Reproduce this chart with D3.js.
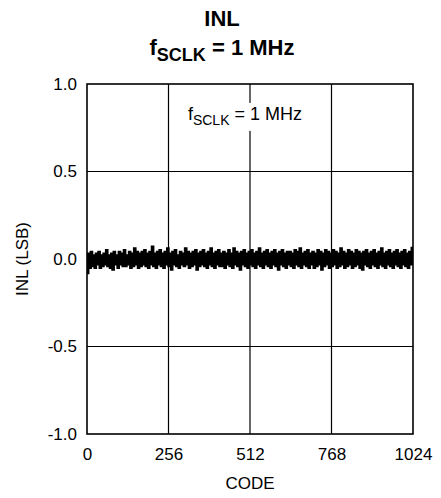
<!DOCTYPE html>
<html>
<head>
<meta charset="utf-8">
<script src="https://cdn.jsdelivr.net/npm/d3@7"></script>
<style>
  body { margin: 0; background: #fff; }
  text { font-family: "Liberation Sans", Arial, sans-serif; fill: #000; }
</style>
</head>
<body>
<div id="chart"></div>
<script>
// tick labels
const xTicks = [0, 256, 512, 768, 1024];
const yTicks = [-1.0, -0.5, 0.0, 0.5, 1.0];

// INL samples, one every 4 codes (LSB)
const codeStep = 4;
const inlValues = [
  -0.08, 0.03, -0.05, 0.04, -0.04, 0.02, -0.05, 0.03, -0.03, 0.04, -0.05, 0.02, -0.04, 0.03, -0.03, 0.05,
  -0.04, 0.02, -0.05, 0.03, -0.06, 0.04, -0.03, 0.02, -0.05, 0.04, -0.03, 0.03, -0.04, 0.05, -0.04, 0.02,
  -0.03, 0.04, -0.05, 0.03, -0.04, 0.06, -0.03, 0.04, -0.05, 0.03, -0.04, 0.04, -0.03, 0.05, -0.04, 0.03,
  -0.05, 0.04, -0.03, 0.07, -0.04, 0.03, -0.05, 0.04, -0.03, 0.05, -0.04, 0.03, -0.05, 0.04, -0.03, 0.06,
  -0.04, 0.03, -0.06, 0.04, -0.03, 0.05, -0.04, 0.02, -0.05, 0.04, -0.03, 0.03, -0.04, 0.06, -0.03, 0.04,
  -0.05, 0.03, -0.04, 0.04, -0.03, 0.05, -0.06, 0.03, -0.04, 0.04, -0.03, 0.05, -0.04, 0.03, -0.05, 0.04,
  -0.03, 0.06, -0.04, 0.03, -0.05, 0.04, -0.03, 0.05, -0.04, 0.03, -0.04, 0.04, -0.05, 0.03, -0.03, 0.05,
  -0.04, 0.03, -0.05, 0.06, -0.03, 0.04, -0.04, 0.03, -0.06, 0.04, -0.03, 0.05, -0.04, 0.03, -0.05, 0.04,
  -0.03, 0.05, -0.04, 0.03, -0.05, 0.04, -0.03, 0.06, -0.04, 0.03, -0.05, 0.04, -0.03, 0.05, -0.04, 0.03,
  -0.05, 0.04, -0.03, 0.05, -0.04, 0.03, -0.06, 0.04, -0.03, 0.05, -0.04, 0.03, -0.05, 0.04, -0.03, 0.04,
  -0.04, 0.03, -0.05, 0.05, -0.03, 0.04, -0.04, 0.06, -0.05, 0.03, -0.03, 0.04, -0.04, 0.05, -0.05, 0.03,
  -0.03, 0.04, -0.05, 0.03, -0.04, 0.05, -0.03, 0.04, -0.06, 0.03, -0.04, 0.05, -0.03, 0.04, -0.05, 0.03,
  -0.04, 0.05, -0.03, 0.04, -0.05, 0.03, -0.04, 0.06, -0.03, 0.04, -0.05, 0.03, -0.04, 0.05, -0.03, 0.04,
  -0.05, 0.03, -0.04, 0.05, -0.03, 0.04, -0.05, 0.03, -0.06, 0.04, -0.03, 0.05, -0.04, 0.03, -0.05, 0.04,
  -0.03, 0.05, -0.04, 0.03, -0.05, 0.04, -0.03, 0.06, -0.04, 0.03, -0.05, 0.04, -0.03, 0.05, -0.04, 0.03,
  -0.05, 0.04, -0.03, 0.05, -0.04, 0.03, -0.05, 0.04, -0.03, 0.05, -0.04, 0.03, -0.05, 0.04, -0.03, 0.07
];

const font = "Liberation Sans, Arial, sans-serif";
const margin = {top: 84, left: 87, right: 28, bottom: 64};
const width = 441, height = 498;
const innerW = width - margin.left - margin.right;
const innerH = height - margin.top - margin.bottom;

const svg = d3.select("#chart")
    .append("svg")
    .attr("width", width)
    .attr("height", height);

// title
const title = svg.append("text")
    .attr("x", 222)
    .attr("text-anchor", "middle")
    .style("font-weight", "bold")
    .style("font-size", "22px");
title.append("tspan").attr("x", 222).attr("y", 26).text("INL");
const t2 = title.append("tspan").attr("x", 222).attr("y", 55);
t2.append("tspan").text("f");
t2.append("tspan").attr("dy", 6).style("font-size", "18px").text("SCLK");
t2.append("tspan").attr("dy", -6).text(" = 1 MHz");

const g = svg.append("g")
    .attr("transform", "translate(" + margin.left + "," + margin.top + ")");

const x = d3.scaleLinear().domain([0, 1024]).range([0, innerW]);
const y = d3.scaleLinear().domain([-1, 1]).range([innerH, 0]);

// grid
g.append("g")
    .selectAll("line")
    .data(xTicks.slice(1, -1))
    .enter().append("line")
    .attr("x1", d => x(d)).attr("x2", d => x(d))
    .attr("y1", 0).attr("y2", innerH)
    .attr("stroke", "#000").attr("stroke-width", 1.2);
g.append("g")
    .selectAll("line")
    .data(yTicks.slice(1, -1))
    .enter().append("line")
    .attr("x1", 0).attr("x2", innerW)
    .attr("y1", d => y(d)).attr("y2", d => y(d))
    .attr("stroke", "#000").attr("stroke-width", 1.2);

// annotation with white backing
const note = g.append("g");
const noteText = note.append("text")
    .attr("x", x(317))
    .attr("y", y(0.795))
    .style("font-size", "18px");
noteText.append("tspan").text("f");
noteText.append("tspan").attr("dy", 5).style("font-size", "14px").text("SCLK");
noteText.append("tspan").attr("dy", -5).text(" = 1 MHz");
const bb = noteText.node().getBBox();
note.insert("rect", "text")
    .attr("x", bb.x - 2).attr("y", bb.y - 1)
    .attr("width", bb.width + 4).attr("height", bb.height + 4)
    .attr("fill", "#fff");

// axes
const xAxis = g.append("g")
    .attr("transform", "translate(0," + innerH + ")")
    .call(d3.axisBottom(x).tickValues(xTicks).tickSize(0).tickPadding(14).tickFormat(d3.format("d")));
const yAxis = g.append("g")
    .call(d3.axisLeft(y).tickValues(yTicks).tickSize(0).tickPadding(10)
        .tickFormat(d => d3.format(".1f")(d).replace("\u2212", "-")));
[xAxis, yAxis].forEach(a => {
    a.attr("font-family", font).attr("font-size", 17);
    a.select(".domain").remove();
});

// frame
g.append("rect")
    .attr("x", 0).attr("y", 0)
    .attr("width", innerW).attr("height", innerH)
    .attr("fill", "none")
    .attr("stroke", "#000")
    .attr("stroke-width", 1.6);

// data trace
const line = d3.line()
    .x((d, i) => x(i * codeStep))
    .y(d => y(d))
    .curve(d3.curveStepAfter);
g.append("path")
    .datum(inlValues)
    .attr("fill", "none")
    .attr("stroke", "#000")
    .attr("stroke-width", 2.4)
    .attr("d", line);

// axis labels
svg.append("text")
    .attr("x", margin.left + innerW / 2)
    .attr("y", 489)
    .attr("text-anchor", "middle")
    .style("font-size", "17px")
    .text("CODE");
svg.append("text")
    .attr("transform", "translate(28," + (margin.top + innerH / 2) + ") rotate(-90)")
    .attr("text-anchor", "middle")
    .style("font-size", "17px")
    .text("INL (LSB)");
</script>
</body>
</html>
